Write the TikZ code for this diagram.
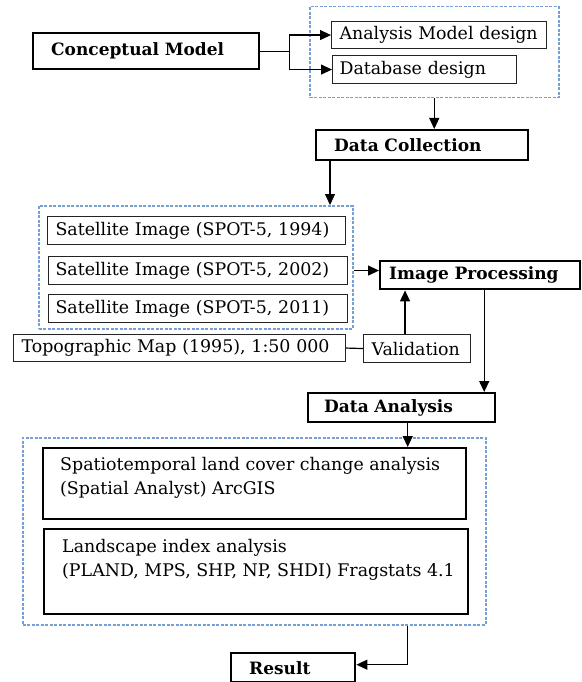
\documentclass[tikz,border=0pt]{standalone}
\usepackage{fontspec}
\setmainfont{DejaVu Serif}
\usetikzlibrary{arrows.meta}
\definecolor{grpblue}{RGB}{120,158,215}
\definecolor{boxline}{RGB}{35,35,35}
\newcommand\regsize{\fontsize{17.4}{24}\selectfont}
\newcommand\boldsize{\bfseries\fontsize{17}{20}\selectfont}
\begin{document}
\begin{tikzpicture}[x=1pt,y=-1pt,
  base/.style={rectangle, anchor=north west, inner sep=0pt, align=left},
  thickbox/.style={base, draw=black, line width=2.4pt, font=\boldsize},
  thinbox/.style={base, draw=boxline, line width=1.1pt, font=\regsize},
  bigbox/.style={base, draw=black, line width=2.4pt},
  txt/.style={anchor=north west, inner sep=0pt, align=left, font=\regsize},
  group/.style={rectangle, anchor=north west, inner sep=0pt, draw=grpblue, dash pattern=on 3pt off 1.5pt, line width=1.5pt},
  line/.style={line width=1.2pt, draw=black},
  arr/.style={line, -{Triangle[length=11pt,width=10pt]}}]
\useasboundingbox (0,0) rectangle (581,682);
% groups
\node[group, minimum width=249, minimum height=91] (g1) at (309,6) {};
\node[group, minimum width=314, minimum height=123] (g2) at (38,205) {};
\node[group, minimum width=463, minimum height=187] (g3) at (22,437) {};
% boxes
\node[thickbox, text width=226, minimum height=36] (cm) at (32,32) {\hspace*{18pt}Conceptual Model};
\node[thinbox, text width=215, minimum height=27] (amd) at (331,21) {\hspace*{8pt}Analysis Model design};
\node[thinbox, text width=184, minimum height=28] (dbd) at (332,55) {\hspace*{7pt}Database design};
\node[thickbox, text width=212, minimum height=30] (dc) at (315,129) {\hspace*{18pt}Data Collection};
\node[thinbox, text width=298, minimum height=28] (s1) at (47,216) {\hspace*{8pt}Satellite Image (SPOT-5, 1994)};
\node[thinbox, text width=299, minimum height=28] (s2) at (48,256) {\hspace*{7pt}Satellite Image (SPOT-5, 2002)};
\node[thinbox, text width=299, minimum height=28] (s3) at (48,294) {\hspace*{7pt}Satellite Image (SPOT-5, 2011)};
\node[thickbox, text width=200, minimum height=28] (ip) at (379,260) {\hspace*{9pt}Image Processing};
\node[thinbox, text width=332, minimum height=27] (topo) at (13,334) {\hspace*{8pt}Topographic Map (1995), 1:50 000};
\node[thinbox, text width=107, minimum height=28] (val) at (363,334) {\hspace*{8pt}Validation};
\node[thickbox, text width=187, minimum height=29] (da) at (307,392) {\hspace*{16pt}Data Analysis};
\node[bigbox, minimum width=423, minimum height=71] (sp) at (42,447) {};
\node[txt] (sptxt) at (60,457) {Spatiotemporal land cover change analysis\\(Spatial Analyst) ArcGIS};
\node[bigbox, minimum width=424, minimum height=85] (ls) at (43,528) {};
\node[txt] (lstxt) at (62,539) {Landscape index analysis\\(PLAND, MPS, SHP, NP, SHDI) Fragstats 4.1};
\node[thickbox, text width=124, minimum height=29] (res) at (230,652) {\hspace*{18pt}Result};
% connectors
\coordinate (br) at ([xshift=29pt]cm.east);
\draw[line] (cm.east) -- (br);
\draw[arr] (br |- amd.west) -- (amd.west);
\draw[arr] (br |- amd.west) -- (br) |- (dbd.west);
\draw[arr] (g1.south) -- (g1.south |- dc.north);
\draw[arr] ([xshift=15pt]dc.south west) -- ([xshift=15pt]dc.south west |- g2.north);
\draw[arr] (s2.east -| g2.east) -- (s2.east -| ip.west);
\draw[line] (topo.east) -- (val.west);
\draw[arr] ([xshift=-12pt]val.north) -- ([xshift=-12pt]val.north |- ip.south);
\draw[arr] ([xshift=4pt]ip.south) -- ([xshift=4pt]ip.south |- da.north);
\draw[arr] ([xshift=6pt]da.south) -- ([xshift=6pt]da.south |- sp.north);
\draw[arr] ([xshift=6pt]da.south |- g3.south) |- ([yshift=3pt]res.east);
\end{tikzpicture}
\end{document}
